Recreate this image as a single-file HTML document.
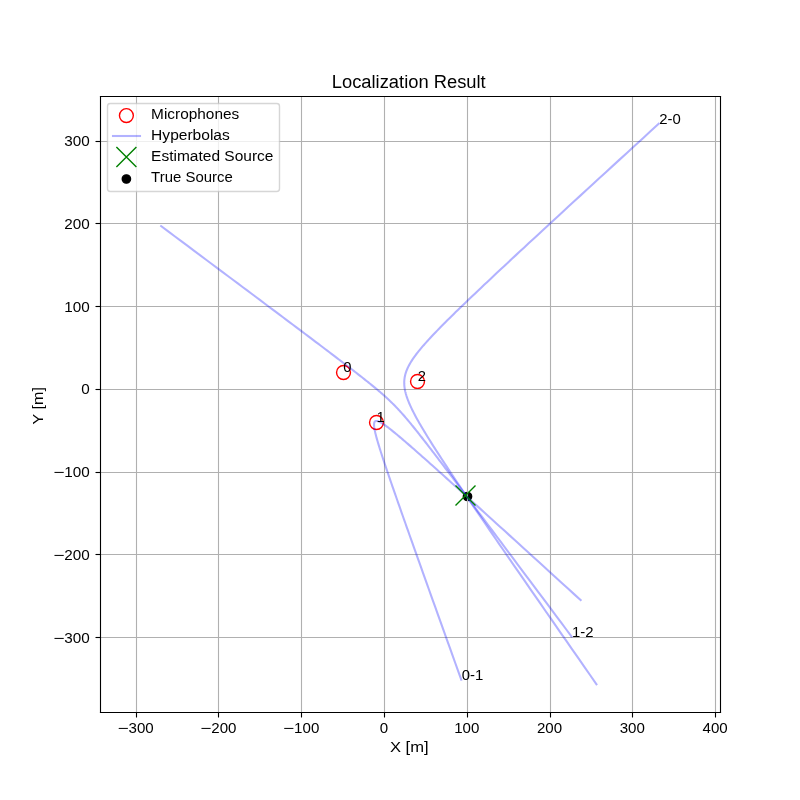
<!DOCTYPE html>
<html><head><meta charset="utf-8"><title>Localization Result</title>
<style>html,body{margin:0;padding:0;background:#fff;width:800px;height:800px;overflow:hidden}svg{display:block;will-change:transform}text{font-family:"Liberation Sans",sans-serif}</style>
</head><body>
<svg width="800" height="800" viewBox="0 0 800 800">
<rect x="0" y="0" width="800" height="800" fill="#fff"/>
<defs><clipPath id="ax"><rect x="100" y="96" width="620" height="616"/></clipPath></defs>
<g clip-path="url(#ax)">
<circle cx="343.5" cy="372.5" r="6.944" fill="none" stroke="#f00" stroke-width="1.389"/>
<circle cx="376.5" cy="422.5" r="6.944" fill="none" stroke="#f00" stroke-width="1.389"/>
<circle cx="417.5" cy="381.5" r="6.944" fill="none" stroke="#f00" stroke-width="1.389"/>
<circle cx="467.5" cy="496.5" r="4.167" fill="#000" stroke="#000" stroke-width="1.389"/>
</g>
<g clip-path="url(#ax)" stroke="#b0b0b0" stroke-width="1.111" stroke-linecap="square">
<line x1="136.5" y1="712.5" x2="136.5" y2="96.5"/>
<line x1="218.5" y1="712.5" x2="218.5" y2="96.5"/>
<line x1="301.5" y1="712.5" x2="301.5" y2="96.5"/>
<line x1="384.5" y1="712.5" x2="384.5" y2="96.5"/>
<line x1="467.5" y1="712.5" x2="467.5" y2="96.5"/>
<line x1="550.5" y1="712.5" x2="550.5" y2="96.5"/>
<line x1="632.5" y1="712.5" x2="632.5" y2="96.5"/>
<line x1="715.5" y1="712.5" x2="715.5" y2="96.5"/>
<line x1="100.5" y1="637.5" x2="720.5" y2="637.5"/>
<line x1="100.5" y1="554.5" x2="720.5" y2="554.5"/>
<line x1="100.5" y1="472.5" x2="720.5" y2="472.5"/>
<line x1="100.5" y1="389.5" x2="720.5" y2="389.5"/>
<line x1="100.5" y1="306.5" x2="720.5" y2="306.5"/>
<line x1="100.5" y1="223.5" x2="720.5" y2="223.5"/>
<line x1="100.5" y1="141.5" x2="720.5" y2="141.5"/>
</g>
<g stroke="#000" stroke-width="1.111">
<line x1="136.5" y1="712.5" x2="136.5" y2="717.5"/>
<line x1="218.5" y1="712.5" x2="218.5" y2="717.5"/>
<line x1="301.5" y1="712.5" x2="301.5" y2="717.5"/>
<line x1="384.5" y1="712.5" x2="384.5" y2="717.5"/>
<line x1="467.5" y1="712.5" x2="467.5" y2="717.5"/>
<line x1="550.5" y1="712.5" x2="550.5" y2="717.5"/>
<line x1="632.5" y1="712.5" x2="632.5" y2="717.5"/>
<line x1="715.5" y1="712.5" x2="715.5" y2="717.5"/>
<line x1="100.5" y1="637.5" x2="95.5" y2="637.5"/>
<line x1="100.5" y1="554.5" x2="95.5" y2="554.5"/>
<line x1="100.5" y1="472.5" x2="95.5" y2="472.5"/>
<line x1="100.5" y1="389.5" x2="95.5" y2="389.5"/>
<line x1="100.5" y1="306.5" x2="95.5" y2="306.5"/>
<line x1="100.5" y1="223.5" x2="95.5" y2="223.5"/>
<line x1="100.5" y1="141.5" x2="95.5" y2="141.5"/>
</g>
<g font-family="'Liberation Sans', sans-serif" fill="#000">
<text x="117.47" y="732.72" font-size="14.44"><tspan textLength="11.06" lengthAdjust="spacingAndGlyphs">−</tspan><tspan x="128.53" textLength="25.18" lengthAdjust="spacingAndGlyphs">300</tspan></text>
<text x="200.26" y="732.72" font-size="14.44"><tspan textLength="11.06" lengthAdjust="spacingAndGlyphs">−</tspan><tspan x="211.32" textLength="25.18" lengthAdjust="spacingAndGlyphs">200</tspan></text>
<text x="283.05" y="732.72" font-size="14.44"><tspan textLength="11.06" lengthAdjust="spacingAndGlyphs">−</tspan><tspan x="294.10" textLength="25.18" lengthAdjust="spacingAndGlyphs">100</tspan></text>
<text x="383.96" y="732.72" font-size="14.44" text-anchor="middle" textLength="8.39" lengthAdjust="spacingAndGlyphs">0</text>
<text x="466.74" y="732.72" font-size="14.44" text-anchor="middle" textLength="25.18" lengthAdjust="spacingAndGlyphs">100</text>
<text x="549.53" y="732.72" font-size="14.44" text-anchor="middle" textLength="25.18" lengthAdjust="spacingAndGlyphs">200</text>
<text x="632.32" y="732.72" font-size="14.44" text-anchor="middle" textLength="25.18" lengthAdjust="spacingAndGlyphs">300</text>
<text x="715.11" y="732.72" font-size="14.44" text-anchor="middle" textLength="25.18" lengthAdjust="spacingAndGlyphs">400</text>
<text x="53.16" y="642.75" font-size="14.44"><tspan textLength="11.17" lengthAdjust="spacingAndGlyphs">−</tspan><tspan x="64.33" textLength="25.45" lengthAdjust="spacingAndGlyphs">300</tspan></text>
<text x="53.16" y="559.97" font-size="14.44"><tspan textLength="11.17" lengthAdjust="spacingAndGlyphs">−</tspan><tspan x="64.33" textLength="25.45" lengthAdjust="spacingAndGlyphs">200</tspan></text>
<text x="53.16" y="477.18" font-size="14.44"><tspan textLength="11.17" lengthAdjust="spacingAndGlyphs">−</tspan><tspan x="64.33" textLength="25.45" lengthAdjust="spacingAndGlyphs">100</tspan></text>
<text x="89.78" y="394.39" font-size="14.44" text-anchor="end" textLength="8.48" lengthAdjust="spacingAndGlyphs">0</text>
<text x="89.78" y="311.60" font-size="14.44" text-anchor="end" textLength="25.45" lengthAdjust="spacingAndGlyphs">100</text>
<text x="89.78" y="228.81" font-size="14.44" text-anchor="end" textLength="25.45" lengthAdjust="spacingAndGlyphs">200</text>
<text x="89.78" y="146.03" font-size="14.44" text-anchor="end" textLength="25.45" lengthAdjust="spacingAndGlyphs">300</text>
<text x="409.25" y="752.28" font-size="13.89" text-anchor="middle" textLength="38.68" lengthAdjust="spacingAndGlyphs">X [m]</text>
<text x="42.68" y="405.75" font-size="15.28" text-anchor="middle" textLength="37.27" lengthAdjust="spacingAndGlyphs" transform="rotate(-90 42.68 405.75)">Y [m]</text>
</g>
<g clip-path="url(#ax)" fill="none" stroke="#00f" stroke-opacity="0.3" stroke-width="2.083" stroke-linecap="square" stroke-linejoin="round">
<polyline points="461.26,679.70 458.26,671.34 455.35,663.23 452.53,655.36 449.79,647.72 447.13,640.32 444.56,633.13 442.06,626.16 439.64,619.39 437.29,612.83 435.01,606.47 432.80,600.29 430.66,594.30 428.58,588.49 426.57,582.85 424.61,577.38 422.72,572.08 420.89,566.93 419.11,561.94 417.38,557.10 415.71,552.40 414.09,547.85 412.52,543.43 411.00,539.14 409.52,534.99 408.09,530.96 406.71,527.05 405.37,523.26 404.07,519.58 402.81,516.01 401.59,512.56 400.41,509.20 399.27,505.95 398.17,502.80 397.10,499.75 396.06,496.78 395.06,493.91 394.09,491.13 393.15,488.43 392.24,485.81 391.37,483.28 390.52,480.82 389.70,478.44 388.91,476.14 388.15,473.90 387.41,471.74 386.70,469.64 386.01,467.61 385.35,465.64 384.71,463.73 384.10,461.89 383.50,460.10 382.93,458.38 382.38,456.70 381.86,455.08 381.35,453.52 380.86,452.00 380.40,450.54 379.95,449.12 379.52,447.75 379.11,446.43 378.72,445.15 378.34,443.92 377.99,442.72 377.65,441.57 377.33,440.46 377.02,439.39 376.73,438.36 376.46,437.36 376.20,436.40 375.96,435.48 375.73,434.59 375.52,433.74 375.32,432.92 375.14,432.13 374.97,431.37 374.82,430.65 374.68,429.95 374.55,429.28 374.44,428.65 374.35,428.04 374.26,427.46 374.19,426.91 374.14,426.38 374.10,425.89 374.07,425.41 374.05,424.97 374.05,424.55 374.06,424.15 374.09,423.78 374.13,423.43 374.18,423.11 374.25,422.80 374.33,422.53 374.42,422.27 374.53,422.04 374.65,421.83 374.79,421.65 374.94,421.48 375.11,421.34 375.29,421.22 375.48,421.12 375.69,421.05 375.91,420.99 376.15,420.96 376.41,420.95 376.68,420.96 376.97,420.99 377.27,421.05 377.59,421.12 377.92,421.22 378.28,421.34 378.65,421.48 379.04,421.64 379.44,421.83 379.87,422.04 380.31,422.27 380.78,422.52 381.26,422.80 381.76,423.10 382.29,423.42 382.83,423.77 383.40,424.14 383.98,424.53 384.60,424.95 385.23,425.40 385.89,425.87 386.57,426.37 387.28,426.89 388.01,427.45 388.77,428.02 389.55,428.63 390.37,429.27 391.21,429.93 392.08,430.63 392.98,431.35 393.91,432.11 394.88,432.89 395.87,433.71 396.90,434.57 397.97,435.45 399.07,436.38 400.20,437.33 401.37,438.33 402.59,439.36 403.84,440.43 405.13,441.54 406.46,442.69 407.84,443.88 409.26,445.12 410.72,446.39 412.24,447.71 413.80,449.08 415.41,450.50 417.07,451.96 418.79,453.47 420.56,455.04 422.38,456.66 424.26,458.33 426.20,460.05 428.21,461.84 430.27,463.68 432.40,465.59 434.60,467.55 436.86,469.58 439.20,471.68 441.61,473.84 444.09,476.07 446.66,478.38 449.30,480.75 452.02,483.21 454.83,485.74 457.72,488.35 460.70,491.05 463.78,493.83 466.95,496.70 470.22,499.66 473.59,502.71 477.07,505.86 480.65,509.11 484.34,512.46 488.15,515.91 492.07,519.48 496.11,523.15 500.28,526.94 504.58,530.84 509.01,534.87 513.57,539.02 518.28,543.31 523.13,547.72 528.13,552.27 533.28,556.96 538.60,561.80 544.07,566.79 549.71,571.93 555.53,577.23 561.52,582.69 567.70,588.33 574.07,594.13 580.64,600.12"/>
<polyline points="571.53,636.51 566.29,629.50 561.21,622.69 556.27,616.09 551.49,609.68 546.84,603.46 542.33,597.43 537.95,591.57 533.70,585.89 529.58,580.37 525.58,575.02 521.69,569.82 517.92,564.78 514.26,559.89 510.71,555.14 507.26,550.53 503.91,546.06 500.66,541.72 497.50,537.50 494.44,533.41 491.46,529.44 488.57,525.59 485.77,521.85 483.05,518.22 480.40,514.69 477.83,511.27 475.34,507.95 472.92,504.72 470.56,501.59 468.28,498.55 466.06,495.60 463.90,492.74 461.81,489.95 459.77,487.25 457.79,484.63 455.87,482.08 454.00,479.61 452.19,477.20 450.42,474.87 448.70,472.60 447.04,470.40 445.41,468.26 443.84,466.18 442.30,464.16 440.81,462.20 439.36,460.29 437.94,458.44 436.57,456.63 435.23,454.88 433.92,453.18 432.65,451.52 431.42,449.91 430.21,448.35 429.04,446.82 427.90,445.34 426.78,443.90 425.69,442.50 424.63,441.13 423.59,439.80 422.58,438.51 421.60,437.25 420.63,436.02 419.69,434.82 418.77,433.66 417.87,432.52 416.99,431.41 416.13,430.33 415.28,429.28 414.45,428.25 413.64,427.25 412.85,426.27 412.07,425.31 411.30,424.37 410.55,423.46 409.81,422.56 409.08,421.68 408.37,420.83 407.66,419.99 406.97,419.17 406.29,418.36 405.61,417.57 404.94,416.79 404.28,416.03 403.63,415.28 402.98,414.55 402.35,413.82 401.71,413.11 401.08,412.41 400.46,411.72 399.83,411.03 399.22,410.36 398.60,409.70 397.99,409.04 397.37,408.39 396.76,407.74 396.15,407.11 395.54,406.47 394.93,405.84 394.32,405.22 393.70,404.60 393.08,403.98 392.46,403.37 391.84,402.75 391.21,402.14 390.58,401.53 389.94,400.92 389.30,400.31 388.65,399.70 387.99,399.08 387.32,398.47 386.65,397.85 385.97,397.23 385.28,396.60 384.57,395.97 383.86,395.34 383.14,394.70 382.40,394.05 381.65,393.40 380.89,392.74 380.11,392.07 379.32,391.40 378.52,390.71 377.70,390.02 376.86,389.31 376.00,388.60 375.12,387.87 374.23,387.13 373.31,386.38 372.38,385.61 371.42,384.83 370.44,384.04 369.43,383.23 368.40,382.40 367.35,381.56 366.27,380.69 365.16,379.81 364.02,378.91 362.86,377.99 361.66,377.05 360.43,376.09 359.17,375.10 357.88,374.09 356.55,373.05 355.18,371.99 353.78,370.90 352.34,369.79 350.86,368.64 349.34,367.47 347.77,366.26 346.16,365.03 344.50,363.76 342.80,362.45 341.05,361.12 339.25,359.74 337.39,358.33 335.49,356.87 333.52,355.38 331.50,353.85 329.42,352.27 327.28,350.65 325.08,348.98 322.81,347.26 320.48,345.50 318.08,343.68 315.60,341.81 313.05,339.89 310.43,337.91 307.73,335.88 304.95,333.78 302.08,331.62 299.13,329.40 296.09,327.12 292.96,324.77 289.73,322.34 286.41,319.85 282.99,317.28 279.47,314.64 275.84,311.91 272.09,309.11 268.24,306.22 264.27,303.24 260.18,300.18 255.97,297.02 251.62,293.77 247.15,290.43 242.54,286.98 237.79,283.42 232.90,279.76 227.86,275.99 222.66,272.11 217.31,268.10 211.80,263.98 206.11,259.73 200.26,255.35 194.22,250.84 188.00,246.20 181.59,241.41 174.99,236.48 168.19,231.39 161.17,226.16"/>
<polyline points="658.71,123.80 650.45,131.35 642.45,138.68 634.68,145.79 627.15,152.70 619.84,159.39 612.75,165.89 605.87,172.20 599.19,178.33 592.72,184.27 586.44,190.04 580.35,195.64 574.44,201.08 568.70,206.35 563.14,211.47 557.74,216.44 552.51,221.27 547.43,225.95 542.51,230.50 537.73,234.91 533.10,239.20 528.61,243.36 524.25,247.40 520.02,251.33 515.92,255.13 511.94,258.83 508.09,262.43 504.35,265.91 500.72,269.30 497.21,272.59 493.80,275.79 490.49,278.89 487.29,281.91 484.18,284.84 481.17,287.68 478.25,290.45 475.42,293.14 472.67,295.75 470.01,298.29 467.44,300.75 464.94,303.15 462.52,305.48 460.17,307.75 457.90,309.95 455.70,312.10 453.57,314.18 451.50,316.21 449.50,318.19 447.57,320.11 445.69,321.98 443.88,323.80 442.12,325.57 440.42,327.30 438.77,328.98 437.18,330.62 435.64,332.21 434.16,333.77 432.72,335.29 431.32,336.77 429.98,338.21 428.68,339.62 427.43,341.00 426.22,342.34 425.05,343.65 423.92,344.94 422.83,346.19 421.78,347.42 420.77,348.62 419.80,349.79 418.86,350.94 417.96,352.07 417.10,353.18 416.26,354.26 415.46,355.32 414.70,356.37 413.96,357.39 413.26,358.40 412.58,359.40 411.94,360.37 411.32,361.34 410.74,362.28 410.18,363.22 409.65,364.14 409.15,365.06 408.67,365.96 408.22,366.85 407.79,367.73 407.39,368.61 407.02,369.48 406.67,370.34 406.35,371.20 406.04,372.05 405.77,372.90 405.51,373.74 405.28,374.58 405.08,375.42 404.89,376.26 404.73,377.10 404.59,377.94 404.48,378.78 404.38,379.63 404.31,380.47 404.26,381.32 404.23,382.18 404.23,383.04 404.25,383.90 404.29,384.78 404.35,385.66 404.43,386.54 404.54,387.44 404.67,388.35 404.82,389.27 405.00,390.20 405.19,391.14 405.41,392.09 405.66,393.06 405.92,394.05 406.22,395.05 406.53,396.07 406.87,397.10 407.23,398.15 407.62,399.23 408.04,400.32 408.48,401.44 408.94,402.58 409.43,403.74 409.95,404.93 410.50,406.14 411.07,407.38 411.68,408.65 412.31,409.95 412.97,411.28 413.66,412.64 414.38,414.03 415.14,415.46 415.92,416.92 416.74,418.42 417.59,419.95 418.48,421.53 419.40,423.15 420.36,424.81 421.35,426.51 422.39,428.26 423.46,430.06 424.57,431.90 425.72,433.80 426.91,435.75 428.15,437.75 429.43,439.81 430.75,441.92 432.12,444.10 433.54,446.33 435.01,448.63 436.53,451.00 438.10,453.43 439.72,455.93 441.40,458.51 443.13,461.16 444.92,463.88 446.77,466.69 448.68,469.58 450.65,472.55 452.69,475.61 454.79,478.76 456.96,482.00 459.21,485.34 461.52,488.78 463.91,492.32 466.37,495.97 468.92,499.72 471.54,503.59 474.25,507.57 477.04,511.67 479.93,515.89 482.90,520.24 485.97,524.73 489.13,529.34 492.39,534.10 495.76,539.00 499.23,544.04 502.81,549.24 506.50,554.60 510.30,560.11 514.23,565.80 518.28,571.65 522.45,577.69 526.75,583.91 531.19,590.31 535.76,596.91 540.48,603.71 545.34,610.72 550.35,617.94 555.52,625.38 560.84,633.04 566.33,640.94 571.99,649.08 577.83,657.47 583.85,666.11 590.05,675.02 596.44,684.20"/>
</g>
<path clip-path="url(#ax)" d="M455.50 505.50L475.50 485.50M455.50 485.50L475.50 505.50" stroke="#008000" stroke-width="1.389" fill="none"/>
<g stroke="#000" stroke-width="1.111" stroke-linecap="square" fill="none">
<path d="M100.5 712.5L100.5 96.5"/><path d="M720.5 712.5L720.5 96.5"/><path d="M100.5 712.5L720.5 712.5"/><path d="M100.5 96.5L720.5 96.5"/>
</g>
<g font-family="'Liberation Sans', sans-serif" fill="#000">
<text x="343.31" y="372.33" font-size="14.44" text-anchor="start" textLength="8.22" lengthAdjust="spacingAndGlyphs">0</text>
<text x="376.43" y="422.00" font-size="14.44" text-anchor="start" textLength="8.22" lengthAdjust="spacingAndGlyphs">1</text>
<text x="417.82" y="380.61" font-size="14.44" text-anchor="start" textLength="8.22" lengthAdjust="spacingAndGlyphs">2</text>
<text x="461.76" y="679.70" font-size="14.44" text-anchor="start" textLength="21.55" lengthAdjust="spacingAndGlyphs">0-1</text>
<text x="572.03" y="636.51" font-size="14.44" text-anchor="start" textLength="21.55" lengthAdjust="spacingAndGlyphs">1-2</text>
<text x="659.21" y="123.80" font-size="14.44" text-anchor="start" textLength="21.55" lengthAdjust="spacingAndGlyphs">2-0</text>
<text x="408.75" y="87.67" font-size="18.00" text-anchor="middle" textLength="153.95" lengthAdjust="spacingAndGlyphs">Localization Result</text>
</g>
<path d="M110.28 191.50L276.72 191.50Q279.50 191.50 279.50 188.72L279.50 106.28Q279.50 103.50 276.72 103.50L110.28 103.50Q107.50 103.50 107.50 106.28L107.50 188.72Q107.50 191.50 110.28 191.50Z" fill="#fff" stroke="#ccc" stroke-width="1.389" opacity="0.8"/>
<circle cx="126.39" cy="115.60" r="6.944" fill="none" stroke="#f00" stroke-width="1.389"/>
<line x1="113" y1="136" x2="140" y2="136" stroke="#00f" stroke-opacity="0.3" stroke-width="2.083" stroke-linecap="square"/>
<path d="M116.39 167.00L136.39 147.00M116.39 147.00L136.39 167.00" stroke="#008000" stroke-width="1.389" fill="none"/>
<circle cx="126.39" cy="179.00" r="4.167" fill="#000" stroke="#000" stroke-width="1.389"/>
<g font-family="'Liberation Sans', sans-serif" fill="#000">
<text x="151.14" y="119.25" font-size="13.89" text-anchor="start" textLength="88.08" lengthAdjust="spacingAndGlyphs">Microphones</text>
<text x="151.14" y="140.19" font-size="13.89" text-anchor="start" textLength="78.65" lengthAdjust="spacingAndGlyphs">Hyperbolas</text>
<text x="151.14" y="161.14" font-size="13.89" text-anchor="start" textLength="122.28" lengthAdjust="spacingAndGlyphs">Estimated Source</text>
<text x="151.14" y="182.08" font-size="13.89" text-anchor="start" textLength="81.62" lengthAdjust="spacingAndGlyphs">True Source</text>
</g>
</svg>
</body></html>
